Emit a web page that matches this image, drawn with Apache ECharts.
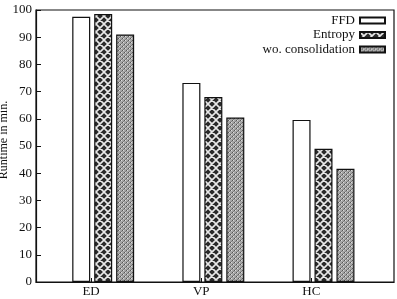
<!DOCTYPE html>
<html>
<head>
<meta charset="utf-8">
<script src="https://cdn.jsdelivr.net/npm/echarts@6/dist/echarts.min.js"></script>
<style>html,body{margin:0;padding:0;background:#fff}#c{width:397px;height:299px}</style>
</head>
<body>
<div id="c"></div>
<script>
// ---- data ----
const categories = ['ED', 'VP', 'HC'];
const seriesNames = ['FFD', 'Entropy', 'wo. consolidation'];
const ffd = [97.5, 73.2, 59.6];
const entropy = [98.5, 68, 49];
const woConsolidation = [91, 60.5, 41.6];
const yTicks = [0, 10, 20, 30, 40, 50, 60, 70, 80, 90, 100];

// ---- layout / style ----
const FONT = '"Liberation Serif", "DejaVu Serif", serif';
const GROUP_SHIFT = 0.11; // cluster centre relative to the category tick

function makePattern(kind) {
  const c = document.createElement('canvas');
  const ctx = c.getContext('2d');
  if (kind === 'cross') {
    c.width = 8; c.height = 8;
    ctx.fillStyle = '#2a2a2a';
    ctx.fillRect(0, 0, 8, 8);
    ctx.strokeStyle = '#e8e8e8';
    ctx.lineWidth = 1.6;
    ctx.beginPath();
    ctx.moveTo(0, 0); ctx.lineTo(8, 8);
    ctx.moveTo(8, 0); ctx.lineTo(0, 8);
    ctx.moveTo(-1, 7); ctx.lineTo(1, 9);
    ctx.moveTo(7, -1); ctx.lineTo(9, 1);
    ctx.stroke();
  } else {
    c.width = 4; c.height = 4;
    ctx.fillStyle = '#a6a6a6';
    ctx.fillRect(0, 0, 4, 4);
    ctx.fillStyle = '#555';
    ctx.fillRect(0, 0, 1, 1); ctx.fillRect(2, 2, 1, 1);
    ctx.fillStyle = '#dcdcdc';
    ctx.fillRect(1, 0, 1, 1); ctx.fillRect(3, 2, 1, 1);
    ctx.fillStyle = '#808080';
    ctx.fillRect(1, 3, 1, 1); ctx.fillRect(3, 1, 1, 1);
  }
  return { image: c, repeat: 'repeat' };
}

const fills = [ '#ffffff', makePattern('cross'), makePattern('dots') ];
const values = [ffd, entropy, woConsolidation];

const series = seriesNames.map((name, s) => ({
  name: name,
  type: 'bar',
  barWidth: 18,
  barGap: '22%',
  data: values[s].map((v, i) => [i + GROUP_SHIFT, v]),
  itemStyle: { color: fills[s], borderColor: '#111', borderWidth: 1.2 },
  emphasis: { disabled: true },
  animation: false
}));

const chart = echarts.init(document.getElementById('c'), null, { renderer: 'canvas' });
chart.setOption({
  animation: false,
  backgroundColor: '#fff',
  grid: { left: 36, right: 3, top: 10, bottom: 17, containLabel: false, outerBoundsMode: 'none', show: true, borderColor: '#111', borderWidth: 1.2, backgroundColor: 'transparent' },
  legend: {
    data: seriesNames,
    orient: 'vertical',
    right: 6,
    top: 9,
    align: 'right',
    itemWidth: 25,
    itemHeight: 6,
    itemGap: 1.5,
    textStyle: { fontFamily: FONT, fontSize: 13, color: '#111', lineHeight: 13 },
    selectedMode: false,
    icon: 'rect'
  },
  xAxis: {
    type: 'value',
    min: -0.5,
    max: 2.75,
    splitLine: { show: false },
    axisLine: { show: true, onZero: false, lineStyle: { color: '#111', width: 1.2 } },
    axisTick: { show: true, inside: true, length: 4, customValues: categories.map((c, i) => i), lineStyle: { color: '#111' } },
    axisLabel: {
      customValues: categories.map((c, i) => i),
      formatter: v => categories[Math.round(v)],
      fontFamily: FONT, fontSize: 13, color: '#111', margin: 3
    }
  },
  yAxis: {
    type: 'value',
    min: yTicks[0],
    max: yTicks[yTicks.length - 1],
    interval: yTicks[1] - yTicks[0],
    name: 'Runtime in min.',
    nameLocation: 'middle',
    nameRotate: 90,
    nameGap: 26,
    nameMoveOverlap: false,
    nameTextStyle: { fontFamily: FONT, fontSize: 12, color: '#111', padding: [0, 0, 0, 12] },
    splitLine: { show: false },
    axisLine: { show: true, onZero: false, lineStyle: { color: '#111', width: 1.2 } },
    axisTick: { show: true, inside: true, length: 5, lineStyle: { color: '#111' } },
    axisLabel: { fontFamily: FONT, fontSize: 13, color: '#111', margin: 4 }
  },
  series: series
});
</script>
</body>
</html>
